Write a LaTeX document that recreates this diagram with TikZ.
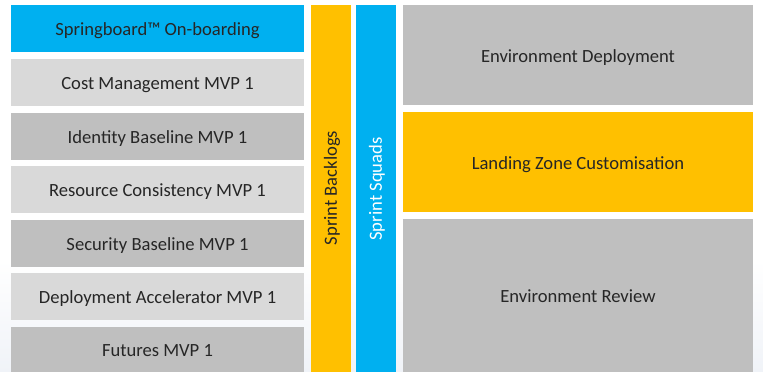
\documentclass[tikz,border=0pt]{standalone}
\usepackage{fontspec}
\setmainfont{Carlito}
\definecolor{sbblue}{HTML}{00B0F0}
\definecolor{sborange}{HTML}{FFC000}
\definecolor{sblight}{HTML}{D9D9D9}
\definecolor{sbdark}{HTML}{BFBFBF}
\definecolor{sbtext}{HTML}{262626}
\definecolor{sbbg}{HTML}{F0F3F8}
\begin{document}
\begin{tikzpicture}[x=1pt,y=-1pt,
  box/.style={rectangle,anchor=north west,inner sep=0pt,outer sep=0pt,
    text=sbtext,font=\fontsize{18.6}{20}\selectfont,text height=14.5pt,text depth=0pt},
  lbox/.style={box,minimum width=293pt,minimum height=47pt},
  rbox/.style={box,minimum width=350pt},
  bar/.style={box,minimum width=40pt,minimum height=367pt},
  vtext/.style={rectangle,inner sep=0pt,anchor=center,rotate=90,
    font=\fontsize{18.6}{20}\selectfont}]
\useasboundingbox[fill=white] (0,0) rectangle (763,372);
\shade[top color=white,bottom color=sbbg] (0,260) rectangle (763,372);
\node[lbox,fill=sbblue] (sb) at (11,5) {Springboard™ On-boarding};
\node[lbox,fill=sblight] (cost) at (11,59) {Cost Management MVP 1};
\node[lbox,fill=sbdark] (ident) at (11,113) {Identity Baseline MVP 1};
\node[lbox,fill=sblight] (res) at (11,166) {Resource Consistency MVP 1};
\node[lbox,fill=sbdark] (sec) at (11,220) {Security Baseline MVP 1};
\node[lbox,fill=sblight] (dep) at (11,273) {Deployment Accelerator MVP 1};
\node[lbox,fill=sbdark,minimum height=45pt] (fut) at (11,327) {Futures MVP 1};
\node[bar,fill=sborange] (backlogs) at (311,5) {};
\node[vtext,text=sbtext] (backlogslbl) at (332,188) {Sprint Backlogs};
\node[bar,fill=sbblue] (squads) at (356,5) {};
\node[vtext,text=white] (squadslbl) at (377,189) {Sprint Squads};
\node[rbox,fill=sbdark,minimum height=100pt] (envdep) at (403,5) {Environment Deployment};
\node[rbox,fill=sborange,minimum height=100pt] (lz) at (403,112) {Landing Zone Customisation};
\node[rbox,fill=sbdark,minimum height=153pt] (envrev) at (403,219) {Environment Review};
\end{tikzpicture}
\end{document}
